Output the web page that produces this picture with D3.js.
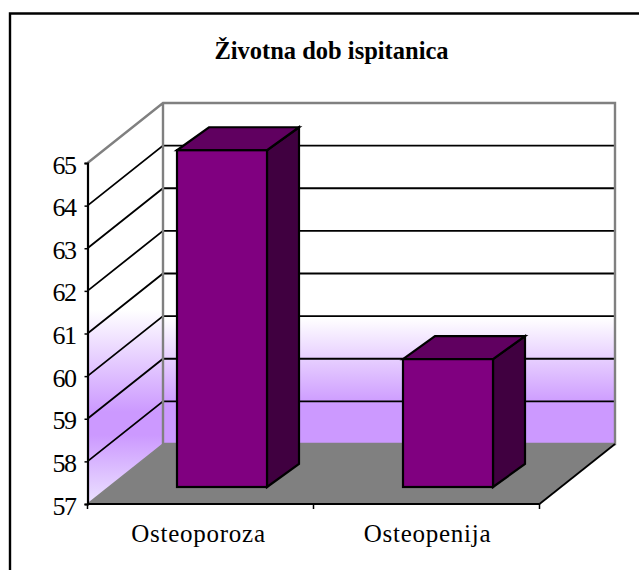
<!DOCTYPE html>
<html>
<head>
<meta charset="utf-8">
<script src="https://cdn.jsdelivr.net/npm/d3@7"></script>
<style>html,body{margin:0;padding:0;background:#fff;overflow:hidden}svg{display:block}</style>
</head>
<body>
<svg id="c" width="639" height="570"></svg>
<script>
const categories = ["Osteoporoza", "Osteopenija"];
const values = [64.9, 60.0];
const yTicks = [57, 58, 59, 60, 61, 62, 63, 64, 65];
const titleText = "Životna dob ispitanica";

const svg = d3.select("#c");
const W = 639, H = 570;
const x0 = 87.5, x1 = 539.5, yB = 504, yT = 163;
const depthX = 75.5, depthY = 60;
const barDx = 32, barDy = 23, barOffX = 21.5, barOffY = 17;
const font = "'Liberation Serif','Times New Roman',serif";

const y = d3.scaleLinear().domain([57, 65]).range([yB, yT]);
const x = d3.scaleBand().domain(categories).range([x0, x1]);
const barW = 90;
const poly = pts => pts.map(p => p.join(",")).join(" ");

const defs = svg.append("defs");
function grad(id, y1, y2, stops) {
  const g = defs.append("linearGradient").attr("id", id)
    .attr("gradientUnits", "userSpaceOnUse")
    .attr("x1", 0).attr("x2", 0).attr("y1", y1).attr("y2", y2);
  stops.forEach(s => g.append("stop").attr("offset", (s[0] - y1) / (y2 - y1)).attr("stop-color", s[1]));
}
grad("backG", 104, 444, [[104, "#fff"], [318, "#fff"], [405, "#cc99ff"], [444, "#cc99ff"]]);
grad("sideG", 104, 504, [[104, "#fff"], [310, "#fff"], [412, "#cc99ff"], [435, "#cc99ff"], [504, "#ece2ff"]]);

// outer frame (top and left only)
svg.append("path").attr("d", `M10,570V13.5H${W}`).attr("fill", "none").attr("stroke", "#000").attr("stroke-width", 2.4);

// title
svg.append("text").attr("x", 331.5).attr("y", 59).attr("text-anchor", "middle")
  .attr("font-family", font).attr("font-weight", "bold").attr("font-size", 24.5)
  .attr("fill", "#000").text(titleText);

// walls and floor
const bx0 = x0 + depthX, bx1 = x1 + depthX;
svg.append("polygon").attr("points", poly([[bx0, y(65) - depthY], [bx1, y(65) - depthY], [bx1, yB - depthY], [bx0, yB - depthY]]))
  .attr("fill", "url(#backG)");
svg.append("polygon").attr("points", poly([[x0, y(65)], [bx0, y(65) - depthY], [bx0, yB - depthY], [x0, yB]]))
  .attr("fill", "url(#sideG)");
svg.append("polygon").attr("points", poly([[x0, yB], [bx0, yB - depthY], [bx1, yB - depthY], [x1, yB]]))
  .attr("fill", "#808080");

// gridlines
const gridTicks = yTicks.slice(1, -1);
svg.append("g").selectAll("path").data(gridTicks).join("path")
  .attr("d", d => `M${x0},${y(d)}L${bx0},${y(d) - depthY}H${bx1}`)
  .attr("fill", "none").attr("stroke", "#000").attr("stroke-width", 1.8);

// wall outlines
svg.append("path").attr("d", `M${x0},${y(65)}L${bx0},${y(65) - depthY}H${bx1}V${yB - depthY}H${bx0}V${y(65) - depthY}`)
  .attr("fill", "none").attr("stroke", "#808080").attr("stroke-width", 2.4);
svg.append("path").attr("d", `M${x0},${yB}L${bx0},${yB - depthY}`)
  .attr("fill", "none").attr("stroke", "#808080").attr("stroke-width", 1.5);
svg.append("path").attr("d", `M${x1},${yB}L${bx1},${yB - depthY}`)
  .attr("fill", "none").attr("stroke", "#000").attr("stroke-width", 1.8);

// bars
const bars = svg.append("g").selectAll("g").data(categories.map((c, i) => ({ c, v: values[i] }))).join("g")
  .attr("stroke", "#000").attr("stroke-width", 2.2).attr("stroke-linejoin", "miter");
const fx = d => x(d.c) + x.bandwidth() / 2 + barOffX - barW / 2;
const fTop = d => y(d.v) - barOffY;
const fBot = () => yB - barOffY;
bars.append("polygon").attr("fill", "#400040")
  .attr("points", d => { const r = fx(d) + barW; return poly([[r, fTop(d)], [r + barDx, fTop(d) - barDy], [r + barDx, fBot() - barDy], [r, fBot()]]); });
bars.append("polygon").attr("fill", "#600060")
  .attr("points", d => { const l = fx(d), r = l + barW; return poly([[l, fTop(d)], [l + barDx, fTop(d) - barDy], [r + barDx, fTop(d) - barDy], [r, fTop(d)]]); });
bars.append("rect").attr("fill", "#800080")
  .attr("x", fx).attr("y", fTop).attr("width", barW).attr("height", d => fBot() - fTop(d));

// axes
const yAxis = svg.append("g").attr("transform", `translate(${x0},0)`)
  .call(d3.axisLeft(y).tickValues(yTicks).tickSize(3).tickPadding(9).tickFormat(d3.format("d")));
const xEdges = [x0, x0 + x.bandwidth(), x1];
const xAxis = svg.append("g").attr("transform", `translate(0,${yB})`);
xAxis.append("path").attr("d", `M${x0},0H${x1}`).attr("stroke", "#000").attr("stroke-width", 2.2);
xAxis.selectAll("line").data(xEdges).join("line")
  .attr("x1", d => d).attr("x2", d => d).attr("y1", 0).attr("y2", 5).attr("stroke", "#000").attr("stroke-width", 1.5);
xAxis.selectAll("text").data(categories).join("text")
  .attr("x", (d, i) => x(d) + x.bandwidth() / 2 + (i ? 1 : -2)).attr("y", 38).attr("text-anchor", "middle")
  .attr("font-family", font).attr("font-size", 25).attr("letter-spacing", 0.75).attr("fill", "#000").text(d => d);

yAxis.select(".domain").attr("stroke", "#000").attr("stroke-width", 2.2);
yAxis.selectAll(".tick line").attr("stroke", "#000").attr("stroke-width", 1.5);
yAxis.selectAll(".tick text").attr("font-family", font).attr("font-size", 26).attr("letter-spacing", -1.5).attr("fill", "#000").attr("dy", "10px");
</script>
</body>
</html>
